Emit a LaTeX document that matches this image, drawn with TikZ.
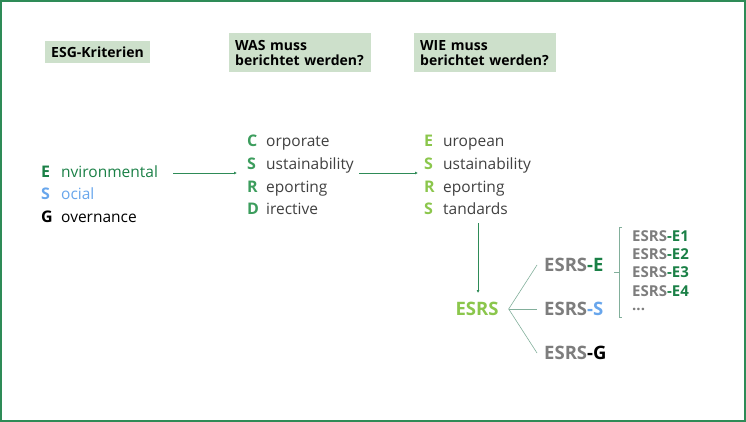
\documentclass[tikz,border=0pt]{standalone}
\usepackage{fontspec}
\setmainfont{Open Sans}
\usetikzlibrary{positioning,arrows.meta}
\definecolor{framegreen}{RGB}{46,139,87}
\definecolor{boxgreen}{RGB}{205,224,203}
\definecolor{esgdark}{RGB}{26,128,70}
\definecolor{esgmid}{RGB}{60,157,93}
\definecolor{esglight}{RGB}{139,198,76}
\definecolor{esgblue}{RGB}{104,166,236}
\definecolor{esrsgrey}{RGB}{125,125,125}
\definecolor{wordgrey}{RGB}{64,64,64}
\definecolor{twiggreen}{RGB}{130,175,155}

\begin{document}
\begin{tikzpicture}[x=1pt,y=-1pt,
  hdr/.style={fill=boxgreen,font=\bfseries\fontsize{14}{15}\selectfont,align=left,anchor=north west,inner xsep=6pt,inner ysep=0pt},
  ltr/.style={font=\bfseries\fontsize{16}{18}\selectfont,anchor=base west,inner sep=0pt},
  wrd/.style={font=\fontsize{15.5}{18}\selectfont,anchor=base west,inner sep=0pt,text=wordgrey},
  flow/.style={draw=framegreen,line width=0.6pt,-{Latex[length=3pt,width=3pt]}},
  twig/.style={draw=twiggreen,line width=0.6pt},
  code/.style={font=\bfseries\fontsize{18.5}{20}\selectfont,text=esrsgrey,anchor=west,inner xsep=7pt,inner ysep=0pt},
  sub/.style={font=\bfseries\fontsize{15}{16}\selectfont,text=esrsgrey,anchor=west,inner sep=0pt}]

\useasboundingbox (0,0) rectangle (746,422);
\draw[framegreen,line width=2pt] (1,1) rectangle (745,421);

% headers
\node[hdr,minimum height=22pt] (kriterien) at (45,41) {ESG-Kriterien};
\node[hdr,text width=130pt,minimum height=39pt] (was) at (229,33) {WAS muss\\berichtet werden?};
\node[hdr,text width=130pt,minimum height=39pt] (wie) at (414,33) {WIE muss\\berichtet werden?};

% ESG
\foreach \y/\l/\w/\c/\n in {178/E/nvironmental/esgdark/e,200/S/ocial/esgblue/s,222/G/overnance/black/g} {
  \node[ltr,text=\c] (esg\n) at (41,\y) {\l};
  \node[wrd,text=\c] (esg\n w) at (61,\y) {\w};
}

% CSRD
\foreach \y/\l/\w/\n in {147/C/orporate/1,170/S/ustainability/2,192/R/eporting/3,214/D/irective/4} {
  \node[ltr,text=esgmid] (csrd\n) at (247,\y) {\l};
  \node[wrd] (csrd\n w) at (266,\y) {\w};
}

% ESRS
\foreach \y/\l/\w/\n in {147/E/uropean/1,170/S/ustainability/2,192/R/eporting/3,214/S/tandards/4} {
  \node[ltr,text=esglight] (esrs\n) at (424,\y) {\l};
  \node[wrd] (esrs\n w) at (443,\y) {\w};
}

\coordinate (a1s) at (173,173);
\coordinate (a1e) at (237,173);
\coordinate (a2s) at (359,173);
\coordinate (a2e) at (418,173);
\coordinate (vtop) at (478,223);
\draw[flow] (a1s) -- (a1e);
\draw[flow] (a2s) -- (a2e);

% tree
\node[font=\bfseries\fontsize{18.5}{20}\selectfont,text=esglight,inner xsep=10pt,inner ysep=3pt] (esrs) at (477,309) {ESRS};
\draw[flow,shorten >=6pt] (vtop) -- (vtop |- esrs.north);

\node[code] (codee) at (537,265) {ESRS\textcolor{esgdark}{-E}};
\node[code] (codes) at (537,309) {ESRS\textcolor{esgblue}{-S}};
\node[code] (codeg) at (537,353) {ESRS\textcolor{black}{-G}};
\foreach \t in {codee,codes,codeg}
  \draw[twig] (esrs.east) -- (\t.west);

\draw[twig] (622,227) -| (619,317) -- (622,317);
\draw[twig] (619,272) -- (614,272);

\foreach \y/\n in {236/1,254/2,272/3,291/4}
  \node[sub] (sub\n) at (632,\y) {ESRS\textcolor{esgdark}{-E\n}};
\node[sub] (subdots) at (632,309) {...};
\end{tikzpicture}
\end{document}
